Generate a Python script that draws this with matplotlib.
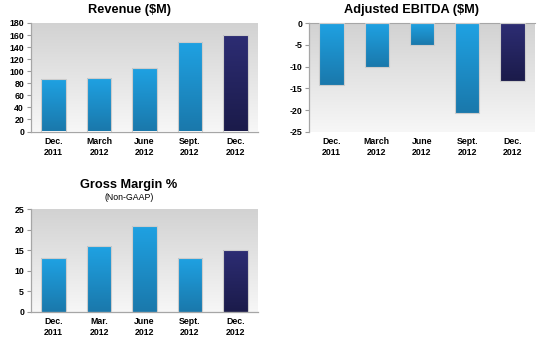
import numpy as np
import matplotlib
matplotlib.use("Agg")
import matplotlib.pyplot as plt
from matplotlib.colors import LinearSegmentedColormap

plt.rcParams['font.family'] = ['Liberation Sans', 'DejaVu Sans']

rev_labels = ["Dec.\n2011", "March\n2012", "June\n2012", "Sept.\n2012", "Dec.\n2012"]
rev_values = [87, 89, 105, 149, 160]
ebitda_labels = ["Dec.\n2011", "March\n2012", "June\n2012", "Sept.\n2012", "Dec.\n2012"]
ebitda_values = [-14.3, -10, -5, -20.6, -13.2]
gm_labels = ["Dec.\n2011", "Mar.\n2012", "June\n2012", "Sept.\n2012", "Dec.\n2012"]
gm_values = [13, 16, 21, 13.2, 15]

W, H = 542, 340
fig = plt.figure(figsize=(W / 100, H / 100), dpi=100)
fig.patch.set_facecolor("white")

def px_axes(l, t, r, b):
    return fig.add_axes([l / W, 1 - b / H, (r - l) / W, (b - t) / H])

bg_cmap = LinearSegmentedColormap.from_list("bg", ["#d2d2d2", "#f7f7f7"])
blue_cmap = LinearSegmentedColormap.from_list("bl", ["#1fa2e3", "#1a78ab"])
navy_cmap = LinearSegmentedColormap.from_list("nv", ["#2d2d74", "#1b1b4a"])
grad = np.linspace(0, 1, 256).reshape(-1, 1)

def panel(ax, labels, values, ylim, yticks):
    ax.set_xlim(-0.5, len(values) - 0.5)
    ax.set_ylim(*ylim)
    ax.imshow(grad, cmap=bg_cmap, aspect="auto", extent=[0, 1, 0, 1],
              transform=ax.transAxes, zorder=0)
    x = np.arange(len(values))
    bars = ax.bar(x, values, width=0.54, color="none", edgecolor="#cccccc",
                  linewidth=0.8, zorder=3)
    for i, b in enumerate(bars):
        cm = navy_cmap if i == len(bars) - 1 else blue_cmap
        x0, y0 = b.get_x(), b.get_y()
        w, h = b.get_width(), b.get_height()
        top, bot = max(y0, y0 + h), min(y0, y0 + h)
        im = ax.imshow(grad, cmap=cm, aspect="auto",
                       extent=[x0, x0 + w, bot, top], zorder=2)
        im.set_clip_path(b)
    ax.set_xlim(-0.5, len(values) - 0.5)
    ax.set_ylim(*ylim)
    ax.set_xticks(x)
    ax.set_xticklabels(labels, fontsize=6.3, fontweight="bold", linespacing=1.25)
    ax.set_yticks(yticks)
    ax.set_yticklabels([str(v) for v in yticks], fontsize=6.3, fontweight="bold")
    ax.tick_params(axis="x", length=0, pad=4)
    ax.tick_params(axis="y", length=3, width=0.8, color="#999999", pad=2)
    for s in ["top", "right"]:
        ax.spines[s].set_visible(False)
    for s in ["left", "bottom"]:
        ax.spines[s].set_color("#a6a6a6")
        ax.spines[s].set_linewidth(0.9)

ax1 = px_axes(31, 23, 258, 131.5)
panel(ax1, rev_labels, rev_values, (0, 180), list(range(0, 181, 20)))
ax2 = px_axes(309, 23.3, 535, 131.7)
panel(ax2, ebitda_labels, ebitda_values, (-25, 0), [0, -5, -10, -15, -20, -25])
ax2.spines["bottom"].set_visible(False)
ax2.spines["top"].set_visible(True)
ax2.spines["top"].set_color("#a6a6a6")
ax3 = px_axes(31, 209.3, 258, 311.7)
panel(ax3, gm_labels, gm_values, (0, 25), [0, 5, 10, 15, 20, 25])

fig.text(129 / W, 1 - 10.5 / H, "Revenue ($M)", ha="center", va="center",
         fontsize=9.2, fontweight="bold")
fig.text(412 / W, 1 - 10.5 / H, "Adjusted EBITDA ($M)", ha="center", va="center",
         fontsize=9.2, fontweight="bold")
fig.text(129 / W, 1 - 185 / H, "Gross Margin %", ha="center", va="center",
         fontsize=9.2, fontweight="bold")
fig.text(129 / W, 1 - 197 / H, "(Non-GAAP)", ha="center", va="center",
         fontsize=6.3)

fig.savefig("out.png", dpi=100, facecolor="white")
